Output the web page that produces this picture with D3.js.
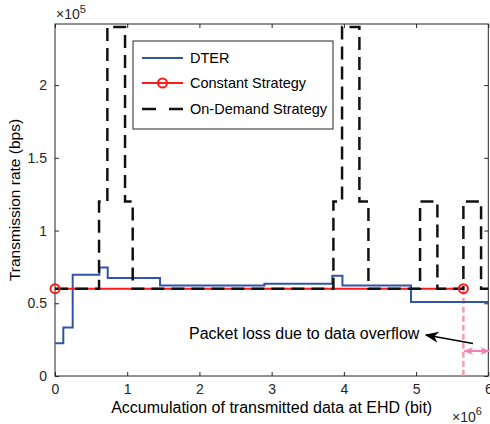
<!DOCTYPE html>
<html>
<head>
<meta charset="utf-8">
<script src="https://cdn.jsdelivr.net/npm/d3@7"></script>
<style>
  body { margin: 0; background: #fff; }
  text { font-family: "Liberation Sans", Arial, sans-serif; }
</style>
</head>
<body>
<script>
var w = 490;
var h = 424;

// x in units of 1e6 bit, rates in units of 1e5 bps
var dterX    = [0, 0.115, 0.245, 0.614, 0.73, 1.454, 2.9, 3.84, 3.98, 4.93, 6];
var dterRate = [0.225, 0.333, 0.696, 0.746, 0.673, 0.622, 0.634, 0.69, 0.622, 0.508];

var constX    = [0, 5.655];
var constRate = [0.6, 0.6];

var demandX    = [0, 0.61, 0.725, 0.97, 1.076, 3.855, 3.975, 4.215, 4.34, 5.055, 5.295, 5.655, 5.9, 6];
var demandRate = [0.6, 1.2, 2.4, 1.2, 0.6, 1.2, 2.4, 1.2, 0.6, 1.2, 0.6, 1.2, 0.6];

var xTicks = [0, 1, 2, 3, 4, 5, 6];
var yTicks = [0, 0.5, 1, 1.5, 2];

var legendNames = ["DTER", "Constant Strategy", "On-Demand Strategy"];
var overflowX = 5.655;
var annotation = "Packet loss due to data overflow";

var margin = {top: 24, right: 2, bottom: 48, left: 55};

var x = d3.scaleLinear().domain([0, 6]).range([margin.left, 488.3]);
var y = d3.scaleLinear().domain([0, 2.42]).range([376, margin.top]);

var svg = d3.select("body")
  .append("svg")
  .attr("width", w)
  .attr("height", h);

var defs = svg.append("defs");
defs.append("clipPath").attr("id", "clip")
  .append("rect")
  .attr("x", x(0)).attr("y", y(2.42) - 2)
  .attr("width", x(6) - x(0) + 2).attr("height", y(0) - y(2.42) + 2);

function marker(id, color, size) {
  defs.append("marker")
    .attr("id", id)
    .attr("viewBox", "0 -5 10 10")
    .attr("refX", 9).attr("refY", 0)
    .attr("markerWidth", size).attr("markerHeight", size)
    .attr("markerUnits", "userSpaceOnUse")
    .attr("orient", "auto-start-reverse")
    .append("path")
    .attr("d", "M0,-4L10,0L0,4L3,0Z")
    .attr("fill", color);
}
marker("arrBlack", "#000", 14);
marker("arrPink", "#f47fb4", 10);

function steps(xs, vs) {
  var pts = vs.map(function(v, i) { return [xs[i], v]; });
  pts.push([xs[xs.length - 1], vs[vs.length - 1]]);
  return pts;
}

var line = d3.line()
  .x(function(d) { return x(d[0]); })
  .y(function(d) { return y(d[1]); })
  .curve(d3.curveStepAfter);

var axisColor = "#262626";

// axes box with ticks
svg.append("rect")
  .attr("x", x(0)).attr("y", y(2.42))
  .attr("width", x(6) - x(0)).attr("height", y(0) - y(2.42))
  .attr("fill", "none").attr("stroke", axisColor).attr("stroke-width", 1);

var gx = svg.append("g")
  .attr("transform", "translate(0," + y(0) + ")")
  .call(d3.axisBottom(x).tickValues(xTicks).tickSizeInner(-4).tickSizeOuter(0).tickPadding(8)
    .tickFormat(d3.format("d")));
var gxTop = svg.append("g")
  .attr("transform", "translate(0," + y(2.42) + ")")
  .call(d3.axisTop(x).tickValues(xTicks).tickSizeInner(-4).tickSizeOuter(0).tickFormat(""));
var gy = svg.append("g")
  .attr("transform", "translate(" + x(0) + ",0)")
  .call(d3.axisLeft(y).tickValues(yTicks).tickSizeInner(-4).tickSizeOuter(0).tickPadding(8)
    .tickFormat(function(d) { return d; }));
var gyRight = svg.append("g")
  .attr("transform", "translate(" + x(6) + ",0)")
  .call(d3.axisRight(y).tickValues(yTicks).tickSizeInner(-4).tickSizeOuter(0).tickFormat(""));

[gx, gxTop, gy, gyRight].forEach(function(g) {
  g.select(".domain").remove();
  g.selectAll("line").attr("stroke", axisColor);
  g.selectAll("text").attr("fill", axisColor).style("font-size", "14px");
});

var plot = svg.append("g").attr("clip-path", "url(#clip)");

// pink overflow marker line
plot.append("line")
  .attr("x1", x(overflowX)).attr("x2", x(overflowX))
  .attr("y1", y(0.6)).attr("y2", y(0))
  .attr("stroke", "#f4a0a6").attr("stroke-width", 2.5)
  .attr("stroke-dasharray", "6,3");

plot.append("path")
  .attr("d", line(steps(dterX, dterRate)))
  .attr("fill", "none").attr("stroke", "#3154a8").attr("stroke-width", 2);

plot.append("path")
  .attr("d", line(constX.map(function(d, i) { return [d, constRate[i]]; })))
  .attr("fill", "none").attr("stroke", "#ff1a1a").attr("stroke-width", 2);

plot.append("path")
  .attr("d", line(steps(demandX, demandRate)))
  .attr("fill", "none").attr("stroke", "#111").attr("stroke-width", 2.5)
  .attr("stroke-dasharray", "13,7");

svg.selectAll(".cmark")
  .data(constX.map(function(d, i) { return [d, constRate[i]]; }))
  .enter().append("circle")
  .attr("cx", function(d) { return x(d[0]); })
  .attr("cy", function(d) { return y(d[1]); })
  .attr("r", 4.5)
  .attr("fill", "none").attr("stroke", "#ff1a1a").attr("stroke-width", 2);

// annotation
svg.append("text")
  .attr("x", 189).attr("y", 339)
  .style("font-size", "16px").attr("fill", "#000")
  .text(annotation);

svg.append("line")
  .attr("x1", 473).attr("y1", 343.5)
  .attr("x2", 426).attr("y2", 335)
  .attr("stroke", "#000").attr("stroke-width", 1.5)
  .attr("marker-end", "url(#arrBlack)");

svg.append("line")
  .attr("x1", x(overflowX) + 1).attr("y1", 351)
  .attr("x2", x(6) + 1).attr("y2", 351)
  .attr("stroke", "#f47fb4").attr("stroke-width", 2)
  .attr("marker-start", "url(#arrPink)")
  .attr("marker-end", "url(#arrPink)");

// legend
var lg = svg.append("g").attr("transform", "translate(133,41)");
lg.append("rect")
  .attr("width", 200).attr("height", 88)
  .attr("fill", "#fff").attr("stroke", axisColor).attr("stroke-width", 1);

var rowY = [17, 42, 68];
var legendColor = ["#3154a8", "#ff1a1a", "#111"];
legendNames.forEach(function(name, i) {
  var ln = lg.append("line")
    .attr("x1", 9).attr("x2", 50)
    .attr("y1", rowY[i]).attr("y2", rowY[i])
    .attr("stroke", legendColor[i])
    .attr("stroke-width", i == 2 ? 2.5 : 2);
  if (i == 2) ln.attr("stroke-dasharray", "14,13");
  if (i == 1) {
    lg.append("circle")
      .attr("cx", 29.5).attr("cy", rowY[i]).attr("r", 4.5)
      .attr("fill", "none").attr("stroke", legendColor[i]).attr("stroke-width", 2);
  }
  lg.append("text")
    .attr("x", 57).attr("y", rowY[i])
    .attr("dy", "0.35em")
    .style("font-size", "14.5px").attr("fill", "#000")
    .text(name);
});

// axis labels
svg.append("text")
  .attr("x", (x(0) + x(6)) / 2).attr("y", 413)
  .attr("text-anchor", "middle")
  .style("font-size", "16px").attr("fill", "#000")
  .text("Accumulation of transmitted data at EHD (bit)");

svg.append("text")
  .attr("transform", "translate(20," + ((y(0) + y(2.42)) / 2) + ") rotate(-90)")
  .attr("text-anchor", "middle")
  .style("font-size", "15.5px").attr("fill", "#000")
  .text("Transmission rate (bps)");

// exponent labels
var e5 = svg.append("text").attr("x", 56).attr("y", 19)
  .style("font-size", "14px").attr("fill", axisColor);
e5.append("tspan").text("\u00d710");
e5.append("tspan").attr("dy", -6).style("font-size", "11px").text("5");

var e6 = svg.append("text").attr("x", 452).attr("y", 422)
  .style("font-size", "14px").attr("fill", axisColor);
e6.append("tspan").text("\u00d710");
e6.append("tspan").attr("dy", -7).style("font-size", "11px").text("6");
</script>
</body>
</html>
